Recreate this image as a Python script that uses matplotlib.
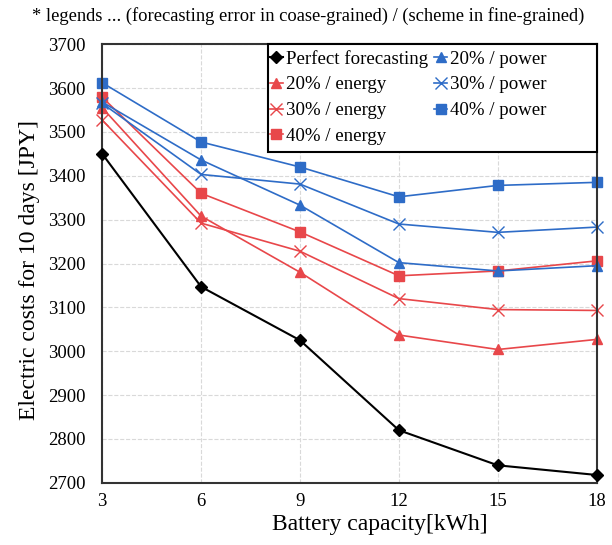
import matplotlib
matplotlib.use('Agg')
import matplotlib.pyplot as plt
from matplotlib.patches import Rectangle

plt.rcParams['font.family'] = ['Liberation Serif', 'DejaVu Serif']

capacity = [3, 6, 9, 12, 15, 18]
perfect = [3450, 3147, 3025, 2820, 2740, 2718]
energy_20 = [3555, 3308, 3180, 3037, 3004, 3027]
energy_30 = [3527, 3292, 3228, 3120, 3095, 3093]
energy_40 = [3579, 3360, 3272, 3172, 3183, 3206]
power_20 = [3568, 3436, 3333, 3202, 3183, 3195]
power_30 = [3565, 3403, 3381, 3290, 3271, 3283]
power_40 = [3612, 3477, 3420, 3352, 3378, 3385]

red = '#e8474a'
blue = '#2e6cc7'

fig = plt.figure(figsize=(6.12, 5.45), dpi=100)
ax = fig.add_axes([0.167, 0.114, 0.808, 0.805])

ax.plot(capacity, perfect, color='black', marker='D', ms=6, lw=1.5, label='Perfect forecasting', clip_on=False, zorder=5)
ax.plot(capacity, energy_20, color=red, marker='^', ms=7, lw=1.2, label='20% / energy', clip_on=False)
ax.plot(capacity, energy_30, color=red, marker='x', ms=8, mew=1, lw=1.2, label='30% / energy', clip_on=False)
ax.plot(capacity, energy_40, color=red, marker='s', ms=7, lw=1.2, label='40% / energy', clip_on=False)
ax.plot(capacity, power_20, color=blue, marker='^', ms=7, lw=1.2, label='20% / power', clip_on=False)
ax.plot(capacity, power_30, color=blue, marker='x', ms=8, mew=1, lw=1.2, label='30% / power', clip_on=False)
ax.plot(capacity, power_40, color=blue, marker='s', ms=7, lw=1.2, label='40% / power', clip_on=False)

ax.set_xlim(3, 18)
ax.set_ylim(2700, 3700)
ax.set_xticks(capacity)
ax.set_yticks(range(2700, 3701, 100))
ax.grid(True, color='#d9d9d9', linestyle='--', lw=0.8)
ax.tick_params(labelsize=13.5, length=0)
ax.tick_params(axis='y', pad=12)
ax.tick_params(axis='x', pad=7)
for s in ax.spines.values():
    s.set_linewidth(1.5)
    s.set_color('#333333')

ax.set_xlabel('Battery capacity[kWh]', fontsize=17)
ax.xaxis.set_label_coords(0.562, -0.07)
ax.set_ylabel('Electric costs for 10 days [JPY]', fontsize=17)
ax.yaxis.set_label_coords(-0.125, 0.485)

# legend box is wider than its contents in the original
box = Rectangle((0.335, 0.754), 0.665, 0.246, transform=ax.transAxes, facecolor='white',
                edgecolor='black', lw=1.5, zorder=9, clip_on=False)
ax.add_patch(box)
leg = ax.legend(loc='upper left', bbox_to_anchor=(0.327, 1.0), ncol=2, fontsize=13.6, frameon=False,
                borderaxespad=0, handlelength=0.7, handletextpad=0.15, columnspacing=0.34,
                labelspacing=0.45, borderpad=0.3)
leg.set_zorder(10)

fig.text(0.052, 0.97, '* legends ... (forecasting error in coase-grained) / (scheme in fine-grained)',
         fontsize=13.3, va='center', ha='left')

fig.savefig('out.png', dpi=100)
